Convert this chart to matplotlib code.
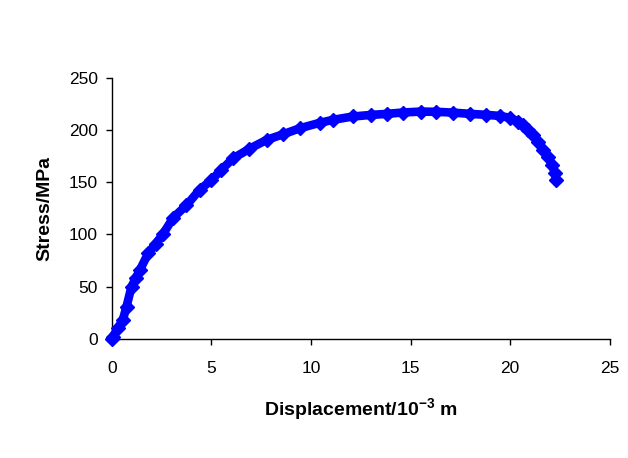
import numpy as np
import matplotlib
matplotlib.use('Agg')
import matplotlib.pyplot as plt

# valores (deslocamento em 10^-3 m, tensão em MPa)
deslocamento = [0.0, 0.05, 0.3, 0.55, 0.74, 0.99, 1.2, 1.41, 1.83, 2.2, 2.56,
                3.08, 3.75, 4.42, 5.0, 5.5, 6.1, 6.9, 7.77, 8.6, 9.45,
                10.45, 11.1, 12.1, 13.0, 13.8, 14.6, 15.5, 16.3, 17.15,
                18.0, 18.8, 19.5, 20.0, 20.4, 20.65, 20.9, 21.15, 21.4,
                21.66, 21.9, 22.1, 22.25, 22.3]
tensao = [0, 2, 10, 18, 31, 50, 58, 66, 82, 91, 100,
          116, 128, 143, 152, 162, 173, 182, 190.6, 196, 201.8,
          207, 209.8, 213, 214.5, 215.5, 216.8, 217.7, 217.5, 216.7,
          215.5, 214.6, 213.5, 211.7, 208, 205, 200.5, 195, 188.5,
          181, 174, 166.7, 159, 152]

plt.rcParams['font.family'] = ['Liberation Sans', 'DejaVu Sans']
plt.rcParams['mathtext.fontset'] = 'custom'
plt.rcParams['mathtext.rm'] = 'Liberation Sans'
plt.rcParams['mathtext.bf'] = 'Liberation Sans:bold'

fig = plt.figure(figsize=(6.28, 4.58), dpi=100)
ax = fig.add_axes([0.178, 0.26, 0.793, 0.57])

ax.plot(deslocamento, tensao, color='#0000FF', lw=6.2, marker='D',
        markersize=7, solid_capstyle='round', solid_joinstyle='round',
        clip_on=False, zorder=3)

ax.set_xlim(0, 25)
ax.set_ylim(0, 250)
ax.set_xticks(np.arange(0, 26, 5))
ax.set_yticks(np.arange(0, 251, 50))
ax.spines['top'].set_visible(False)
ax.spines['right'].set_visible(False)
for s in ['left', 'bottom']:
    ax.spines[s].set_linewidth(1.0)
ax.tick_params(direction='out', length=4, width=1, labelsize=12.5)
ax.tick_params(axis='x', pad=12)
ax.tick_params(axis='y', pad=6)

ax.set_xlabel('Displacement/10$^{\\mathbf{-3}}$ m', fontsize=14, fontweight='bold', va='center')
ax.set_ylabel('Stress/MPa', fontsize=14, fontweight='bold', va='center')
ax.xaxis.set_label_coords(0.5, -0.272)
ax.yaxis.set_label_coords(-0.135, 0.5)

fig.savefig('out.png', dpi=100)
